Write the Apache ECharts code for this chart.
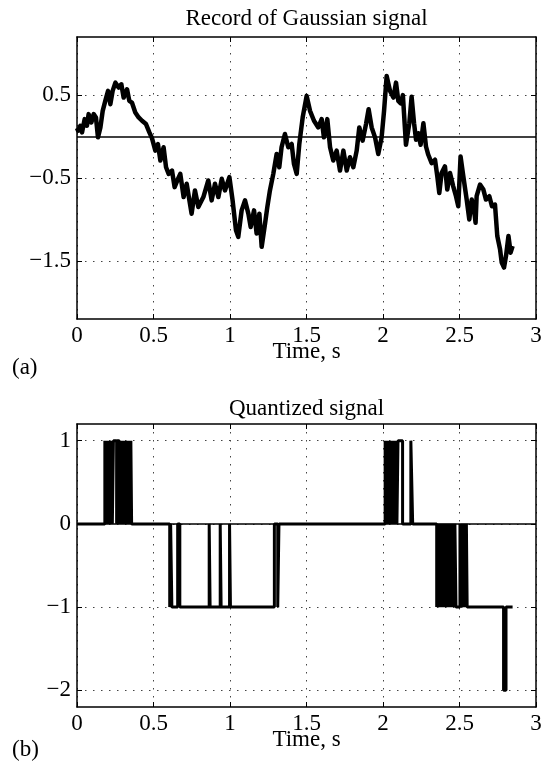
<!DOCTYPE html>
<html>
<head>
<meta charset="utf-8">
<title>Gaussian signal and quantized signal</title>
<script src="https://cdn.jsdelivr.net/npm/echarts@6/dist/echarts.min.js"></script>
<style>
  html, body { margin: 0; padding: 0; background: #fff; }
  #chart { width: 541px; height: 767px; }
</style>
</head>
<body>
<div id="chart"></div>
<script>
// (a) record of the gaussian signal
const gaussTime = [
  0.000, 0.007, 0.022, 0.033, 0.050, 0.065, 0.076, 0.094, 0.109, 0.124,
  0.137, 0.153, 0.168, 0.185, 0.203, 0.218, 0.233, 0.251, 0.272, 0.290,
  0.305, 0.327, 0.342, 0.359, 0.381, 0.403, 0.425, 0.451, 0.473, 0.490,
  0.512, 0.529, 0.545, 0.566, 0.582, 0.599, 0.621, 0.638, 0.660, 0.675,
  0.697, 0.717, 0.749, 0.771, 0.793, 0.826, 0.858, 0.880, 0.902, 0.924,
  0.946, 0.967, 0.996, 1.017, 1.039, 1.054, 1.076, 1.098, 1.120, 1.135,
  1.157, 1.174, 1.192, 1.207, 1.229, 1.244, 1.261, 1.283, 1.305, 1.322,
  1.337, 1.359, 1.381, 1.403, 1.418, 1.436, 1.453, 1.475, 1.501, 1.523,
  1.549, 1.577, 1.599, 1.614, 1.636, 1.654, 1.675, 1.697, 1.719, 1.741,
  1.763, 1.784, 1.806, 1.828, 1.845, 1.867, 1.889, 1.906, 1.926, 1.948,
  1.969, 1.991, 2.007, 2.024, 2.046, 2.068, 2.085, 2.100, 2.116, 2.130,
  2.150, 2.172, 2.187, 2.203, 2.216, 2.231, 2.246, 2.264, 2.281, 2.296,
  2.318, 2.340, 2.355, 2.368, 2.383, 2.405, 2.420, 2.438, 2.459, 2.477,
  2.492, 2.507, 2.525, 2.547, 2.564, 2.580, 2.595, 2.605, 2.612, 2.634,
  2.656, 2.673, 2.695, 2.712, 2.732, 2.747, 2.765, 2.776, 2.791, 2.804,
  2.820, 2.834, 2.847
];
const gaussValue = [
  0.10, 0.07, 0.13, 0.05, 0.21, 0.13, 0.27, 0.17, 0.27, 0.23,
  -0.01, 0.11, 0.31, 0.43, 0.55, 0.39, 0.55, 0.65, 0.59, 0.63,
  0.47, 0.57, 0.43, 0.41, 0.29, 0.23, 0.19, 0.15, 0.05, -0.02,
  -0.17, -0.09, -0.29, -0.13, -0.37, -0.45, -0.41, -0.61, -0.51, -0.45,
  -0.73, -0.57, -0.93, -0.65, -0.85, -0.73, -0.53, -0.77, -0.57, -0.73,
  -0.51, -0.65, -0.49, -0.77, -1.13, -1.21, -0.89, -0.77, -0.93, -1.09,
  -0.89, -1.17, -0.93, -1.33, -1.05, -0.85, -0.65, -0.45, -0.21, -0.37,
  -0.13, 0.03, -0.13, -0.09, -0.33, -0.45, -0.09, 0.23, 0.49, 0.31,
  0.19, 0.11, 0.21, -0.01, 0.21, -0.13, -0.29, -0.17, -0.41, -0.17,
  -0.41, -0.25, -0.37, -0.17, 0.11, -0.05, 0.15, 0.33, 0.11, -0.01,
  -0.21, -0.01, 0.31, 0.73, 0.55, 0.47, 0.65, 0.43, 0.40, 0.50,
  -0.10, 0.16, 0.48, 0.16, -0.04, 0.04, -0.10, 0.16, -0.12, -0.22,
  -0.32, -0.28, -0.48, -0.68, -0.44, -0.36, -0.64, -0.44, -0.60, -0.72,
  -0.84, -0.24, -0.48, -0.76, -1.00, -0.76, -0.88, -1.04, -0.72, -0.58,
  -0.64, -0.76, -0.72, -0.84, -0.82, -1.20, -1.36, -1.52, -1.58, -1.44,
  -1.20, -1.40, -1.32
];

// (b) quantized signal: each level holds until the next change time
// (the dense runs are where the signal chatters across a threshold)
const quantTime = [
  0, 0.182, 0.189, 0.196, 0.203, 0.210, 0.217, 0.224, 0.231, 0.238,
  0.259, 0.262,
  0.276, 0.283, 0.290, 0.297, 0.304, 0.311, 0.318, 0.325, 0.332, 0.339,
  0.346, 0.352, 0.357,
  0.606, 0.612, 0.620, 0.658, 0.672, 0.864, 0.870,
  0.936, 0.942, 0.997, 1.003, 1.290, 1.312, 1.320,
  2.014, 2.021, 2.028, 2.035, 2.042, 2.049, 2.056, 2.063, 2.070, 2.077,
  2.084, 2.091, 2.098, 2.128, 2.182, 2.194,
  2.351, 2.358, 2.365, 2.372, 2.379, 2.386, 2.393, 2.400, 2.407, 2.414,
  2.421, 2.428, 2.435, 2.442, 2.449, 2.456, 2.463, 2.470, 2.477,
  2.503, 2.510, 2.517, 2.524, 2.531, 2.538, 2.545, 2.550,
  2.788, 2.804, 2.847
];
const quantLevel = [
  0, 1, 0, 1, 0, 1, 0, 1, 0, 1,
  0, 1,
  0, 1, 0, 1, 0, 1, 0, 1, 0, 1,
  0, 1, 0,
  -1, 0, -1, 0, -1, 0, -1,
  0, -1, 0, -1, 0, -1, 0,
  1, 0, 1, 0, 1, 0, 1, 0, 1, 0,
  1, 0, 1, 0, 1, 0,
  -1, 0, -1, 0, -1, 0, -1, 0, -1, 0,
  -1, 0, -1, 0, -1, 0, -1, 0, -1,
  0, -1, 0, -1, 0, -1, 0, -1,
  -2, -1, -1
];

// tick labels
const timeTicks = [0, 0.5, 1, 1.5, 2, 2.5, 3];
const gaussTicks = [0.5, -0.5, -1.5];
const quantTicks = [1, 0, -1, -2];

const fontFamily = "'Liberation Serif', 'Times New Roman', serif";
const txt = { fontFamily: fontFamily, fontSize: 23, color: "#000" };
const gridDots = { color: "#444", width: 1, type: [1.5, 6.5] };
const frameLine = { color: "#000", width: 1.5 };

const minus = v => String(v).replace("-", "\u2212");

const zip = (xs, ys) => xs.map((x, i) => [x, ys[i]]);

function timeAxis(gridIndex) {
  return {
    gridIndex: gridIndex,
    type: "value",
    min: 0,
    max: 3,
    name: "Time, s",
    nameLocation: "middle",
    nameGap: 21,
    nameMoveOverlap: false,
    nameTextStyle: txt,
    axisLine: { onZero: false, lineStyle: frameLine },
    axisTick: { inside: true, length: 5, customValues: timeTicks, lineStyle: { color: "#000" } },
    axisLabel: Object.assign({ margin: 5, customValues: timeTicks }, txt),
    splitLine: { show: true, lineStyle: gridDots }
  };
}

function topFrame(gridIndex) {
  return {
    gridIndex: gridIndex,
    type: "value",
    position: "top",
    min: 0,
    max: 3,
    axisLine: { onZero: false, lineStyle: frameLine },
    axisTick: { inside: true, length: 5, customValues: timeTicks, lineStyle: { color: "#000" } },
    axisLabel: { show: false },
    splitLine: { show: false }
  };
}

function valueAxis(gridIndex, ticks, right) {
  return {
    gridIndex: gridIndex,
    type: "value",
    position: right ? "right" : "left",
    min: -2.2,
    max: 1.2,
    axisLine: { show: true, onZero: false, lineStyle: frameLine },
    axisTick: { show: true, inside: true, length: 5, customValues: ticks, lineStyle: { color: "#000" } },
    axisLabel: right
      ? { show: false }
      : Object.assign({ margin: 6, customValues: ticks, formatter: minus }, txt),
    splitLine: { show: !right, lineStyle: gridDots }
  };
}

const zeroLine = {
  silent: true,
  symbol: "none",
  animation: false,
  label: { show: false },
  lineStyle: { color: "#000", width: 1.5, type: "solid" },
  data: [{ yAxis: 0 }]
};

const chart = echarts.init(document.getElementById("chart"));

chart.setOption({
  backgroundColor: "#fff",
  animation: false,
  title: [
    {
      text: "Record of Gaussian signal",
      left: 306.5,
      top: 7,
      padding: 0,
      textAlign: "center",
      textStyle: Object.assign({ fontWeight: "normal" }, txt)
    },
    {
      text: "Quantized signal",
      left: 306.5,
      top: 397,
      padding: 0,
      textAlign: "center",
      textStyle: Object.assign({ fontWeight: "normal" }, txt)
    }
  ],
  graphic: [
    { type: "text", left: 12, top: 356, style: { text: "(a)", fill: "#000", font: "23px " + fontFamily } },
    { type: "text", left: 12, top: 738, style: { text: "(b)", fill: "#000", font: "23px " + fontFamily } }
  ],
  grid: [
    { left: 77, top: 37, width: 459, height: 282, outerBoundsMode: "none" },
    { left: 77, top: 424, width: 459, height: 283, outerBoundsMode: "none" }
  ],
  xAxis: [timeAxis(0), topFrame(0), timeAxis(1), topFrame(1)],
  yAxis: [
    valueAxis(0, gaussTicks, false),
    valueAxis(0, gaussTicks, true),
    valueAxis(1, quantTicks, false),
    valueAxis(1, quantTicks, true)
  ],
  series: [
    {
      name: "Gaussian signal",
      type: "line",
      xAxisIndex: 0,
      yAxisIndex: 0,
      showSymbol: false,
      symbol: "none",
      data: zip(gaussTime, gaussValue),
      lineStyle: { color: "#000", width: 4.5, join: "round" },
      markLine: zeroLine
    },
    {
      name: "Quantized signal",
      type: "line",
      xAxisIndex: 2,
      yAxisIndex: 2,
      step: "end",
      showSymbol: false,
      symbol: "none",
      data: zip(quantTime, quantLevel),
      lineStyle: { color: "#000", width: 3 },
      markLine: zeroLine
    }
  ]
});
</script>
</body>
</html>
